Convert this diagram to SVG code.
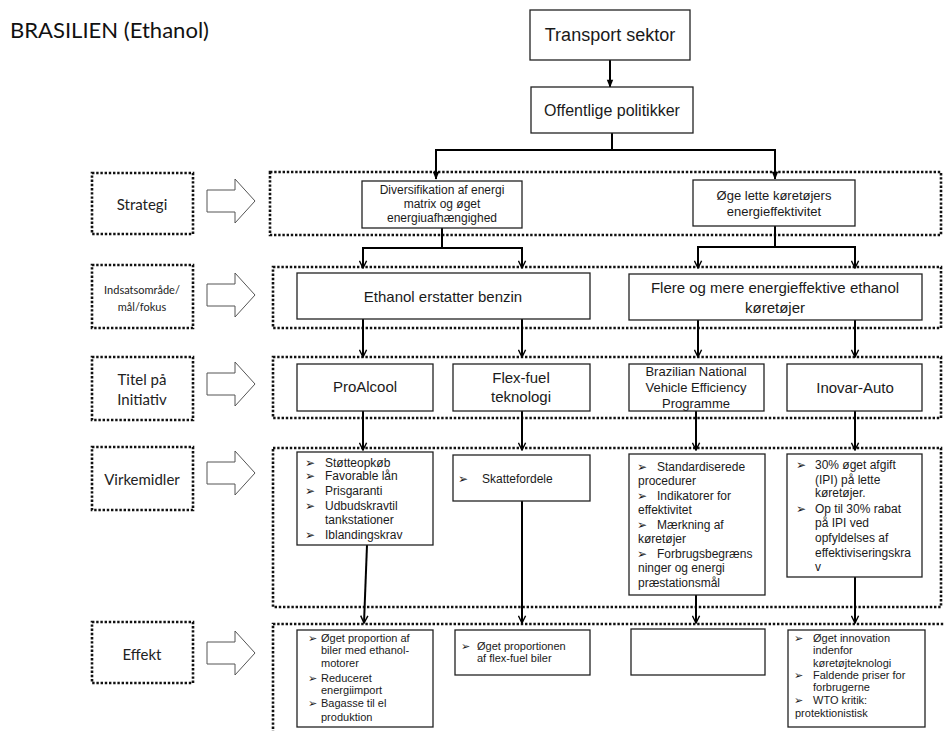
<svg xmlns="http://www.w3.org/2000/svg" width="944" height="731" viewBox="0 0 944 731">
<style>
.bx{fill:#fff;stroke:#222;stroke-width:1.3}
.dot{fill:none;stroke:#111;stroke-width:2.6;stroke-dasharray:2.4 1.8}
.ha{fill:#fff;stroke:#555;stroke-width:1}
.t{font-family:"Liberation Sans",Arial,sans-serif;fill:#1a1a1a}
.c{text-anchor:middle}
.lb{font-family:Lato,"Open Sans",sans-serif;fill:#222;text-anchor:middle}
.bu{font-family:"DejaVu Sans",sans-serif;fill:#1a1a1a}
.cn{fill:none;stroke:#000;stroke-width:2}
</style>
<defs>
<marker id="ao" viewBox="0 0 10 10" refX="9" refY="5" markerWidth="9" markerHeight="9" orient="auto" markerUnits="userSpaceOnUse"><path d="M1,1 L9,5 L1,9" fill="none" stroke="#000" stroke-width="1.6"/></marker>
<marker id="af" viewBox="0 0 10 10" refX="9" refY="5" markerWidth="9" markerHeight="8" orient="auto" markerUnits="userSpaceOnUse"><path d="M0,1 L10,5 L0,9 z" fill="#000"/></marker>
<path id="harrow" class="ha" d="M207,-11 L235,-11 L235,-22 L255,0 L235,22 L235,11 L207,11 Z"/>
</defs>

<text x="10" y="38" font-family="Lato,'Open Sans',sans-serif" font-size="21" fill="#111" textLength="199" lengthAdjust="spacingAndGlyphs">BRASILIEN (Ethanol)</text>

<!-- row frames -->
<g id="frames">
<rect class="dot" x="270" y="172" width="671" height="63"/>
<rect class="dot" x="273" y="267" width="668" height="61"/>
<rect class="dot" x="273" y="357" width="668" height="61"/>
<rect class="dot" x="273" y="448" width="668" height="159"/>
<rect class="dot" x="273" y="624" width="700" height="140"/>
</g>

<!-- row labels -->
<g id="lbl-strategi"><rect class="dot" x="92" y="173" width="101" height="61"/><text class="lb" x="142" y="210" font-size="15">Strategi</text><use href="#harrow" y="201"/></g>
<g id="lbl-indsats"><rect class="dot" x="92" y="265" width="101" height="63"/><text class="lb" x="142" y="294" font-size="11">Indsatsområde/</text><text class="lb" x="142" y="311" font-size="11">mål/fokus</text><use href="#harrow" y="295"/></g>
<g id="lbl-titel"><rect class="dot" x="92" y="357" width="101" height="63"/><text class="lb" x="142" y="385" font-size="15">Titel på</text><text class="lb" x="142" y="405" font-size="15">Initiativ</text><use href="#harrow" y="384"/></g>
<g id="lbl-virk"><rect class="dot" x="92" y="447" width="101" height="63"/><text class="lb" x="142" y="485" font-size="15">Virkemidler</text><use href="#harrow" y="473"/></g>
<g id="lbl-effekt"><rect class="dot" x="92" y="622" width="101" height="61"/><text class="lb" x="142" y="660" font-size="15">Effekt</text><use href="#harrow" y="653"/></g>

<!-- connectors -->
<g id="connectors">
<line class="cn" x1="610" y1="60" x2="610" y2="87" marker-end="url(#af)" stroke-width="1.5"/>
<line class="cn" x1="612" y1="133" x2="612" y2="150"/>
<line class="cn" x1="435" y1="150" x2="776" y2="150" stroke-width="2.4"/>
<line class="cn" x1="436" y1="150" x2="436" y2="179" marker-end="url(#af)"/>
<line class="cn" x1="775" y1="150" x2="775" y2="179" marker-end="url(#af)"/>
<line class="cn" x1="442" y1="228" x2="442" y2="248"/>
<line class="cn" x1="362" y1="248" x2="523" y2="248"/>
<line class="cn" x1="363" y1="248" x2="363" y2="268" marker-end="url(#ao)"/>
<line class="cn" x1="522" y1="248" x2="522" y2="268" marker-end="url(#ao)"/>
<line class="cn" x1="775" y1="226" x2="775" y2="247"/>
<line class="cn" x1="697" y1="247" x2="856" y2="247"/>
<line class="cn" x1="698" y1="247" x2="698" y2="268" marker-end="url(#ao)"/>
<line class="cn" x1="855" y1="247" x2="855" y2="268" marker-end="url(#ao)"/>
<line class="cn" x1="363" y1="319" x2="363" y2="357" marker-end="url(#ao)"/>
<line class="cn" x1="522" y1="319" x2="522" y2="357" marker-end="url(#ao)"/>
<line class="cn" x1="698" y1="320" x2="698" y2="357" marker-end="url(#ao)"/>
<line class="cn" x1="855" y1="320" x2="855" y2="357" marker-end="url(#ao)"/>
<line class="cn" x1="363" y1="411" x2="363" y2="450" marker-end="url(#ao)"/>
<line class="cn" x1="522" y1="411" x2="522" y2="450" marker-end="url(#ao)"/>
<line class="cn" x1="696" y1="411" x2="696" y2="450" marker-end="url(#ao)"/>
<line class="cn" x1="855" y1="411" x2="855" y2="450" marker-end="url(#ao)"/>
<line class="cn" x1="367" y1="545" x2="364" y2="623" marker-end="url(#ao)"/>
<line class="cn" x1="522" y1="501" x2="522" y2="623" marker-end="url(#ao)"/>
<line class="cn" x1="696" y1="595" x2="696" y2="623" marker-end="url(#ao)"/>
<line class="cn" x1="855" y1="577" x2="855" y2="623" marker-end="url(#ao)"/>
</g>

<!-- top nodes -->
<g id="n-transport"><rect class="bx" x="530" y="10" width="160" height="50"/><text class="t c" x="610" y="41" font-size="18">Transport sektor</text></g>
<g id="n-offentlige"><rect class="bx" x="531" y="87" width="162" height="46"/><text class="t c" x="612" y="116" font-size="16">Offentlige  politikker</text></g>

<!-- strategy -->
<g id="n-divers"><rect class="bx" x="362" y="181" width="160" height="47"/>
<text class="t c" font-size="12"><tspan x="442" y="194">Diversifikation af energi</tspan><tspan x="442" y="208">matrix og øget</tspan><tspan x="442" y="222">energiuafhængighed</tspan></text></g>
<g id="n-oege"><rect class="bx" x="693" y="180" width="162" height="46"/>
<text class="t c" font-size="13"><tspan x="774" y="200">Øge  lette  køretøjers</tspan><tspan x="774" y="216">energieffektivitet</tspan></text></g>

<!-- focus -->
<g id="n-ethanol"><rect class="bx" x="297" y="273" width="293" height="46"/><text class="t c" x="443" y="302" font-size="15">Ethanol erstatter benzin</text></g>
<g id="n-flere"><rect class="bx" x="629" y="274" width="293" height="46"/>
<text class="t c" font-size="15"><tspan x="775" y="293">Flere og  mere energieffektive  ethanol</tspan><tspan x="775" y="313">køretøjer</tspan></text></g>

<!-- initiatives -->
<g id="n-proalcool"><rect class="bx" x="297" y="364" width="136" height="47"/><text class="t c" x="365" y="392" font-size="15">ProAlcool</text></g>
<g id="n-flexfuel"><rect class="bx" x="453" y="364" width="137" height="47"/>
<text class="t c" font-size="15"><tspan x="521" y="383">Flex-fuel</tspan><tspan x="521" y="402">teknologi</tspan></text></g>
<g id="n-brazilian"><rect class="bx" x="629" y="364" width="135" height="47"/>
<text class="t c" font-size="13"><tspan x="696" y="376">Brazilian National</tspan><tspan x="696" y="392">Vehicle Efficiency</tspan><tspan x="696" y="408">Programme</tspan></text></g>
<g id="n-inovar"><rect class="bx" x="787" y="364" width="135" height="47"/><text class="t c" x="855" y="393" font-size="15">Inovar-Auto</text></g>

<!-- instruments -->
<g id="n-v-proalcool"><rect class="bx" x="297" y="452" width="136" height="93"/>
<g class="bu" font-size="12"><text x="305" y="467">➢</text><text x="305" y="480">➢</text><text x="305" y="495">➢</text><text x="305" y="510">➢</text><text x="305" y="539">➢</text></g>
<text class="t" font-size="12"><tspan x="325" y="467">Støtteopkøb</tspan><tspan x="325" y="480">Favorable lån</tspan><tspan x="325" y="495">Prisgaranti</tspan><tspan x="325" y="510">Udbudskravtil</tspan><tspan x="325" y="524">tankstationer</tspan><tspan x="325" y="539">Iblandingskrav</tspan></text></g>
<g id="n-v-flex"><rect class="bx" x="453" y="455" width="137" height="46"/>
<text class="bu" x="458" y="483" font-size="12">➢</text><text class="t" x="482" y="483" font-size="12">Skattefordele</text></g>
<g id="n-v-brazil"><rect class="bx" x="629" y="454" width="136" height="141"/>
<g class="bu" font-size="12"><text x="637" y="471">➢</text><text x="637" y="500">➢</text><text x="637" y="529">➢</text><text x="637" y="558">➢</text></g>
<text class="t" font-size="12"><tspan x="657" y="471">Standardiserede</tspan><tspan x="638" y="485">procedurer</tspan><tspan x="657" y="500">Indikatorer for</tspan><tspan x="638" y="514">effektivitet</tspan><tspan x="657" y="529">Mærkning af</tspan><tspan x="638" y="543">køretøjer</tspan><tspan x="657" y="558">Forbrugsbegræns</tspan><tspan x="638" y="572">ninger og energi</tspan><tspan x="638" y="587">præstationsmål</tspan></text></g>
<g id="n-v-inovar"><rect class="bx" x="787" y="454" width="135" height="123"/>
<g class="bu" font-size="12"><text x="796" y="469">➢</text><text x="796" y="513">➢</text></g>
<text class="t" font-size="12"><tspan x="815" y="469">30% øget afgift</tspan><tspan x="815" y="484">(IPI) på lette</tspan><tspan x="815" y="497">køretøjer.</tspan><tspan x="815" y="513">Op til 30% rabat</tspan><tspan x="815" y="527">på IPI ved</tspan><tspan x="815" y="542">opfyldelses af</tspan><tspan x="815" y="557">effektiviseringskra</tspan><tspan x="815" y="571">v</tspan></text></g>

<!-- effects -->
<g id="n-e-proalcool"><rect class="bx" x="297" y="630" width="136" height="97"/>
<g class="bu" font-size="11"><text x="308" y="642">➢</text><text x="308" y="682">➢</text><text x="308" y="707">➢</text></g>
<text class="t" font-size="11"><tspan x="321" y="642">Øget proportion af</tspan><tspan x="321" y="654">biler med ethanol-</tspan><tspan x="321" y="667">motorer</tspan><tspan x="321" y="682">Reduceret</tspan><tspan x="321" y="694">energiimport</tspan><tspan x="321" y="707">Bagasse til el</tspan><tspan x="321" y="721">produktion</tspan></text></g>
<g id="n-e-flex"><rect class="bx" x="455" y="630" width="135" height="45"/>
<text class="bu" x="461" y="650" font-size="11">➢</text>
<text class="t" font-size="11"><tspan x="477" y="650">Øget proportionen</tspan><tspan x="477" y="662">af flex-fuel biler</tspan></text></g>
<g id="n-e-brazil"><rect class="bx" x="631" y="629" width="134" height="46"/></g>
<g id="n-e-inovar"><rect class="bx" x="788" y="630" width="137" height="97"/>
<g class="bu" font-size="11"><text x="794" y="642">➢</text><text x="794" y="679">➢</text><text x="794" y="704">➢</text></g>
<text class="t" font-size="11"><tspan x="813" y="642">Øget innovation</tspan><tspan x="813" y="654">indenfor</tspan><tspan x="813" y="667">køretøjteknologi</tspan><tspan x="813" y="679">Faldende priser for</tspan><tspan x="813" y="691">forbrugerne</tspan><tspan x="813" y="704">WTO kritik:</tspan><tspan x="795" y="717">protektionistisk</tspan></text></g>
</svg>
